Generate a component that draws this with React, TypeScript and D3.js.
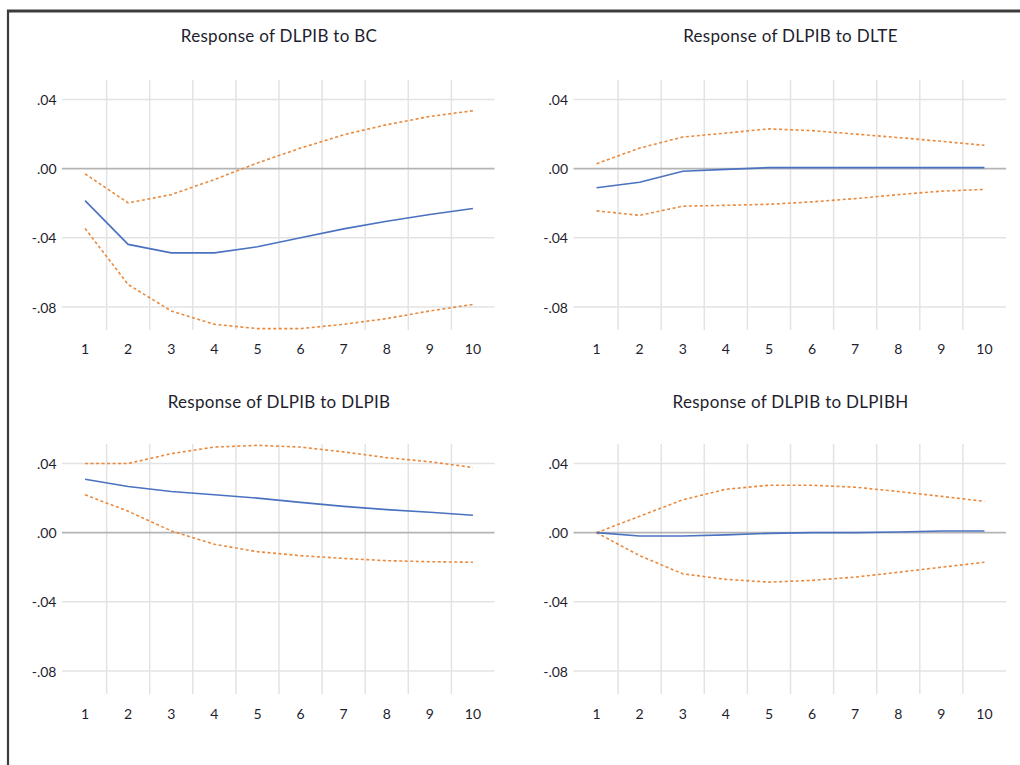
import React from "react";
import * as d3 from "d3";

const periods = ["1", "2", "3", "4", "5", "6", "7", "8", "9", "10"];
const yTicks = [0.04, 0, -0.04, -0.08];
const yTickLabels = [".04", ".00", "-.04", "-.08"];

const titles = [
  "Response of DLPIB to BC",
  "Response of DLPIB to DLTE",
  "Response of DLPIB to DLPIB",
  "Response of DLPIB to DLPIBH",
];

const bcResp = [-0.0185, -0.0438, -0.0487, -0.0487, -0.0452, -0.040, -0.0348, -0.0304, -0.0265, -0.023];
const bcUpper = [-0.003, -0.0198, -0.015, -0.0063, 0.0033, 0.0119, 0.0196, 0.0254, 0.0302, 0.0335];
const bcLower = [-0.0346, -0.067, -0.0823, -0.090, -0.0925, -0.0925, -0.090, -0.0867, -0.0823, -0.0785];

const dlteResp = [-0.011, -0.0079, -0.0015, -0.0004, 0.0006, 0.0006, 0.0006, 0.0006, 0.0006, 0.0006];
const dlteUpper = [0.0029, 0.0119, 0.0183, 0.0206, 0.023, 0.022, 0.020, 0.018, 0.0158, 0.0135];
const dlteLower = [-0.0244, -0.027, -0.0217, -0.0212, -0.0206, -0.0192, -0.0173, -0.015, -0.013, -0.012];

const dlpibResp = [0.0309, 0.0267, 0.0238, 0.0219, 0.020, 0.0175, 0.0152, 0.0133, 0.0118, 0.0101];
const dlpibUpper = [0.040, 0.040, 0.0457, 0.0495, 0.0505, 0.0495, 0.0467, 0.0434, 0.041, 0.0377];
const dlpibLower = [0.0219, 0.0124, 0.001, -0.0067, -0.011, -0.0133, -0.0149, -0.0162, -0.0168, -0.0171];

const dlpibhResp = [0.0, -0.0019, -0.0019, -0.0013, -0.0004, 0.0, 0.0, 0.0004, 0.001, 0.001];
const dlpibhUpper = [0.0, 0.0095, 0.019, 0.0251, 0.0274, 0.0274, 0.0263, 0.0238, 0.021, 0.0181];
const dlpibhLower = [0.0, -0.0133, -0.0238, -0.027, -0.0286, -0.0276, -0.0257, -0.0229, -0.020, -0.0171];

const responses = [bcResp, dlteResp, dlpibResp, dlpibhResp];
const uppers = [bcUpper, dlteUpper, dlpibUpper, dlpibhUpper];
const lowers = [bcLower, dlteLower, dlpibLower, dlpibhLower];

const FONT = "Lato, 'Noto Sans', sans-serif";
const TEXT = "#1e1e2e";
const BLUE = "#4a72c1";
const ORANGE = "#ea8a3e";

function Panel({ idx }: { idx: number }) {
  const col = idx % 2;
  const row = Math.floor(idx / 2);
  const x0 = col === 0 ? 63.5 : 575;
  const w = 431;
  const off = row === 0 ? 0 : 364;
  const top = 80 + off;
  const bottom = 330 + off;

  const x = d3.scaleBand<string>().domain(periods).range([x0, x0 + w]);
  const bw = x.bandwidth();
  const cx = (p: string) => (x(p) as number) + bw / 2;
  const y = d3.scaleLinear().domain([-0.08, 0.04]).range([307 + off, 99.5 + off]);

  const line = d3
    .line<number>()
    .x((_, i) => cx(periods[i]))
    .y((v) => y(v));

  const titleY = row === 0 ? 35 : 401;
  const labelY = row === 0 ? 348 : 713;

  return (
    <g>
      <text
        x={x0 + w / 2}
        y={titleY}
        textAnchor="middle"
        dominantBaseline="central"
        fontFamily={FONT}
        fontSize={17}
        letterSpacing={0.3}
        fill={TEXT}
      >
        {titles[idx]}
      </text>
      {periods.slice(1).map((p) => (
        <line
          key={"v" + p}
          x1={x(p) as number}
          x2={x(p) as number}
          y1={top}
          y2={bottom}
          stroke="#e3e3e3"
          strokeWidth={1.5}
        />
      ))}
      {yTicks.map((t, i) => (
        <g key={"h" + i}>
          <line
            x1={x0 - 1.5}
            x2={x0 + w}
            y1={y(t)}
            y2={y(t)}
            stroke={t === 0 ? "#b4b4b4" : "#e3e3e3"}
            strokeWidth={t === 0 ? 1.8 : 1.5}
          />
          <text
            x={x0 - 7}
            y={y(t)}
            textAnchor="end"
            dominantBaseline="central"
            fontFamily={FONT}
            fontSize={14}
            fill={TEXT}
          >
            {yTickLabels[i]}
          </text>
        </g>
      ))}
      {periods.map((p) => (
        <text
          key={"x" + p}
          x={cx(p)}
          y={labelY}
          textAnchor="middle"
          dominantBaseline="central"
          fontFamily={FONT}
          fontSize={14}
          fill={TEXT}
        >
          {p}
        </text>
      ))}
      <path d={line(uppers[idx]) || ""} fill="none" stroke={ORANGE} strokeWidth={1.6} strokeDasharray="3,2.5" />
      <path d={line(lowers[idx]) || ""} fill="none" stroke={ORANGE} strokeWidth={1.6} strokeDasharray="3,2.5" />
      <path d={line(responses[idx]) || ""} fill="none" stroke={BLUE} strokeWidth={1.6} />
    </g>
  );
}

export default function App() {
  return (
    <div style={{ position: "absolute", left: 0, top: 0 }}>
      <svg width={1020} height={765} style={{ display: "block", background: "#fff" }}>
        <rect x={0} y={0} width={1020} height={765} fill="#fff" />
        <line x1={7} x2={1020} y1={11} y2={11} stroke="#3c3c3c" strokeWidth={3} />
        <line x1={8} x2={8} y1={10} y2={765} stroke="#3c3c3c" strokeWidth={2.2} />
        {[0, 1, 2, 3].map((i) => (
          <Panel key={i} idx={i} />
        ))}
      </svg>
    </div>
  );
}
